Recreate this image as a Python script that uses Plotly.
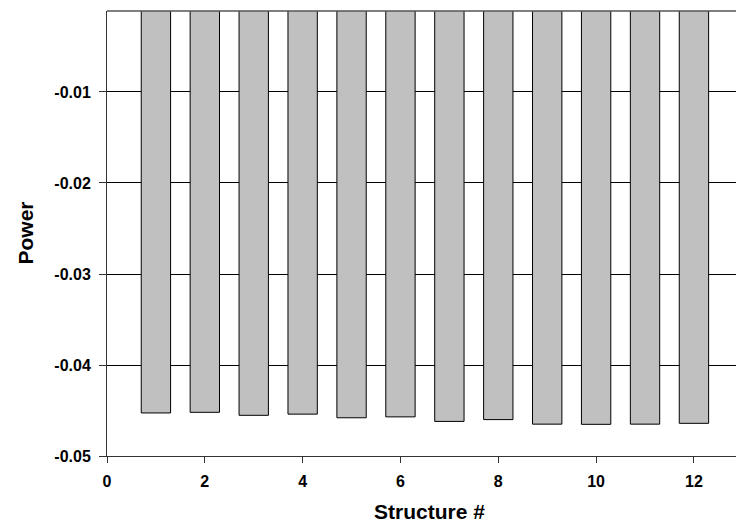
import plotly.graph_objects as go

structures = [1, 2, 3, 4, 5, 6, 7, 8, 9, 10, 11, 12]
power = [-0.04527, -0.0452, -0.04553, -0.0454, -0.0458, -0.0457,
         -0.0462, -0.0460, -0.0465, -0.04652, -0.0465, -0.04641]
y_ticks = [-0.05, -0.04, -0.03, -0.02, -0.01]
x_ticks = [0, 2, 4, 6, 8, 10, 12]

fig = go.Figure()
fig.add_trace(go.Bar(
    x=structures, y=power, width=0.6,
    marker=dict(color="#c0c0c0", line=dict(color="black", width=1)),
))

FAM = "Arial, Liberation Sans, sans-serif"
tickfont = dict(family=FAM, size=16, color="black", weight="bold")
fig.update_layout(
    width=736, height=524,
    margin=dict(l=107, r=0, t=11, b=68, autoexpand=False),
    paper_bgcolor="white", plot_bgcolor="white",
    showlegend=False,
    font=dict(family=FAM, size=16, color="black"),
    xaxis=dict(
        range=[0, 12.86], tickvals=x_ticks, ticktext=[str(v) for v in x_ticks],
        showgrid=False, zeroline=False, automargin=False,
        showline=True, linecolor="#333333", linewidth=1,
        ticks="outside", ticklen=6, tickcolor="#333333",
        ticklabelstandoff=5,
        tickfont=tickfont,
    ),
    yaxis=dict(
        range=[-0.05, -0.0011], tickvals=y_ticks,
        ticktext=["%.2f" % v for v in y_ticks],
        showgrid=True, gridcolor="black", gridwidth=1,
        zeroline=False, automargin=False,
        showline=True, linecolor="#333333", linewidth=1,
        ticks="outside", ticklen=7, tickcolor="#333333",
        ticklabelstandoff=5,
        tickfont=tickfont,
    ),
    annotations=[
        dict(text="<b>Structure #</b>", xref="paper", yref="paper",
             x=(429 - 107) / 629, y=-(511 - 456) / 445, xanchor="center", yanchor="middle",
             showarrow=False, font=dict(family=FAM, size=21, color="black")),
        dict(text="<b>Power</b>", xref="paper", yref="paper",
             x=-(107 - 25) / 629, y=0.5, xanchor="center", yanchor="middle", textangle=-90,
             showarrow=False, font=dict(family=FAM, size=21, color="black")),
    ],
)
fig.add_shape(type="line", xref="paper", yref="paper", x0=0, x1=1, y0=1, y1=1,
              line=dict(color="#555555", width=1.5))
fig.write_html("out.html", config={"displayModeBar": False},
               post_script="document.body.style.margin='0';document.body.style.overflow='hidden';")
